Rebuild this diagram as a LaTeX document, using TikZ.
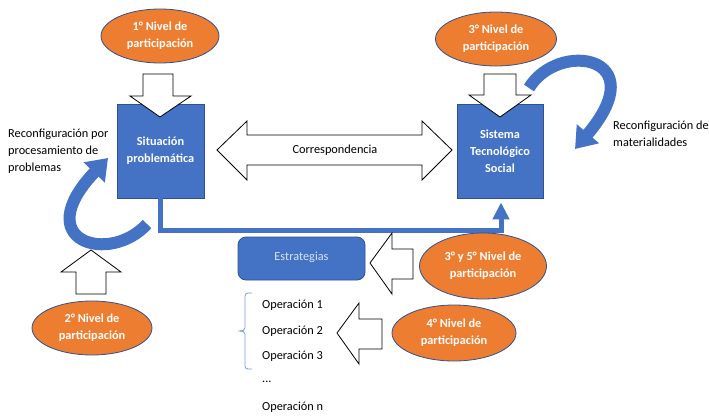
\documentclass[tikz,border=0pt]{standalone}
\usepackage{fontspec}
\setmainfont{Carlito}
\usetikzlibrary{shapes.geometric,arrows.meta,calc}

\definecolor{boxblue}{HTML}{4472C4}
\definecolor{edgeblue}{HTML}{2F528F}
\definecolor{levelorange}{HTML}{ED7D31}
\definecolor{paleblue}{HTML}{DAE3F3}
\definecolor{bracketblue}{HTML}{7A9BD2}

\tikzset{
  level/.style={ellipse, draw=edgeblue, line width=0.8pt, fill=levelorange,
    text=white, font=\fontsize{12.3}{17}\selectfont\bfseries, align=center, inner sep=0pt},
  bluebox/.style={rectangle, draw=edgeblue, line width=0.8pt, fill=boxblue,
    text=white, font=\fontsize{12.3}{17}\selectfont\bfseries, align=center, inner sep=0pt},
  blockarrow/.style={draw=black, fill=white, line width=0.8pt, line join=miter},
  label/.style={font=\fontsize{12.3}{17}\selectfont, align=left, inner sep=0pt},
  bendarrow/.style={draw=boxblue, line width=12pt,
    -{Triangle[width=28pt,length=20pt]}},
  linkline/.style={draw=boxblue, line width=5pt,
    -{Triangle[width=16pt,length=17pt]}}
}

\begin{document}
\begin{tikzpicture}[x=1pt,y=-1pt]
  \useasboundingbox (0,0) rectangle (709,415);

  % main boxes
  \node[bluebox, minimum width=87pt, minimum height=94pt] (sit) at (160.5,151)
    {Situación\\problemática};
  \node[bluebox, minimum width=86pt, minimum height=94pt] (sts) at (500,151)
    {Sistema\\Tecnológico\\Social};

  % link from the problem situation to the socio-technical system
  \draw[linkline, shorten >=4pt] (sit.south) -- ++(0,32.5) -| ([xshift=1pt]sts.south);

  \node[rectangle, rounded corners=8pt, draw=edgeblue, line width=0.8pt, fill=boxblue,
    text=paleblue, font=\fontsize{12.3}{17}\selectfont, minimum width=127pt,
    minimum height=43pt, inner sep=0pt] (est) at (301.5,258.5)
    {\raisebox{5pt}{Estrategias}};

  % participation levels
  \node[level, minimum width=118pt, minimum height=54pt] (n1) at (160,36)
    {1° Nivel de\\participación};
  \node[level, minimum width=121pt, minimum height=54pt] (n3) at (496,39)
    {3° Nivel de\\participación};
  \node[level, minimum width=120pt, minimum height=54pt] (n2) at (92,328)
    {2° Nivel de\\participación};
  \node[level, minimum width=127pt, minimum height=66pt] (n35) at (483,266)
    {3° y 5° Nivel de\\participación};
  \node[level, minimum width=124pt, minimum height=56pt] (n4) at (454,333)
    {4° Nivel de\\participación};

  % free labels
  \node[label, anchor=west] (lblleft) at (8,151)
    {Reconfiguración por\\procesamiento de\\problemas};
  \node[label, anchor=west] (lblright) at (613,134)
    {Reconfiguración de\\materialidades};

  % operations list
  \node[label, anchor=west] (op1) at (262,305) {Operación 1};
  \node[label, anchor=west] (op2) at (262,331) {Operación 2};
  \node[label, anchor=west] (op3) at (262,356) {Operación 3};
  \node[label, anchor=west] (opd) at (262,382) {...};
  \node[label, anchor=west] (opn) at (262,407) {Operación n};

  % bracket grouping the first operations
  \draw[bracketblue, line width=0.8pt]
    (252,293) -- (248,293) to[out=180,in=90] (245,296) -- (245,328)
    to[out=-90,in=0] (240,331) -- (238,331);
  \draw[bracketblue, line width=0.8pt]
    (240,331) to[out=0,in=90] (245,334) -- (245,366)
    to[out=-90,in=180] (248,369) -- (252,369);

  % reconfiguration loops
  \coordinate (lt) at (147,224);
  \coordinate (lh) at (108,158);
  \draw[bendarrow] (lt) .. controls (110,265) and (28,242) .. (lh);
  \coordinate (rt) at (529,88);
  \coordinate (rh) at (575,149);
  \draw[bendarrow] (rt) .. controls (558,40) and (655,55) .. (rh);

  % block arrows
  \path[blockarrow] (143,74) -- (173,74) -- (173,96) -- (191,96) -- (160,117)
    -- (130,96) -- (143,96) -- cycle;
  \path[blockarrow] (484,74) -- (516,74) -- (516,95) -- (531,95) -- (500,117)
    -- (469,95) -- (484,95) -- cycle;
  \path[blockarrow] (217,150) -- (247,121) -- (247,135) -- (422,135) -- (422,121)
    -- (452,150) -- (422,180) -- (422,165) -- (247,165) -- (247,180) -- cycle;
  \path[blockarrow] (76,294) -- (76,272) -- (61,272) -- (91,250) -- (121,272)
    -- (106,272) -- (106,294) -- cycle;
  \path[blockarrow] (413,249) -- (392,249) -- (392,233) -- (370,263) -- (392,294)
    -- (392,279) -- (413,279) -- cycle;
  \path[blockarrow] (382,319) -- (359,319) -- (359,303) -- (337,333) -- (359,364)
    -- (359,349) -- (382,349) -- cycle;

  % label of the two-way arrow, set on top of it
  \node[label] (corr) at (335,150) {Correspondencia};
\end{tikzpicture}
\end{document}
